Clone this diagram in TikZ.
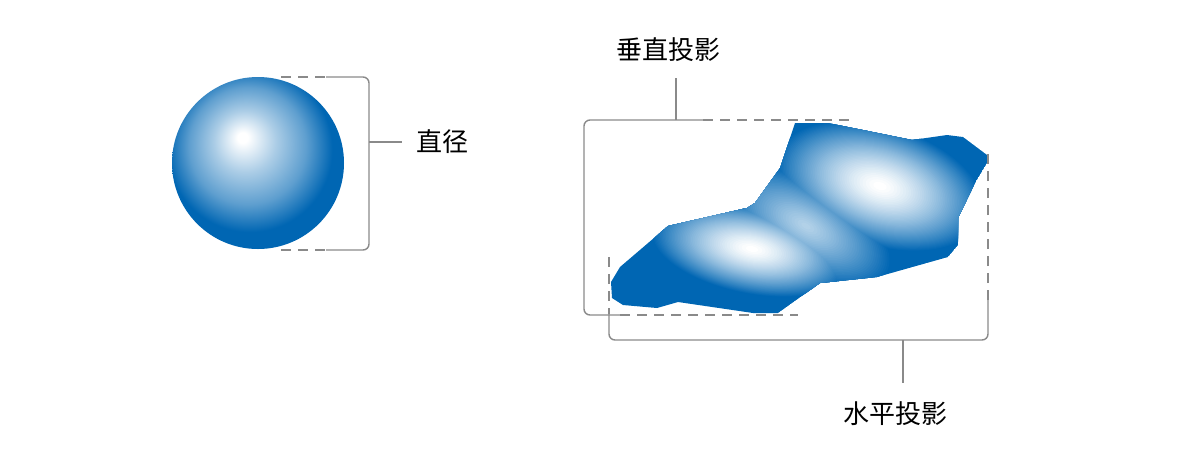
\documentclass[tikz,border=0pt]{standalone}
\usepackage{fontspec}
\newfontfamily\cjk{Noto Sans CJK SC}
\definecolor{blueA}{HTML}{0066B3}
\definecolor{lineg}{HTML}{8A8A8A}
\pgfdeclareradialshading{spherefill}{\pgfpoint{-4.6bp}{7.6bp}}{%
  color(0bp)=(white);
  color(1.5bp)=(white);
  color(9bp)=(blueA!33!white);
  color(17bp)=(blueA!63!white);
  color(24bp)=(blueA);
  color(50bp)=(blueA)}
\tikzset{
  brk/.style={draw=lineg, line width=1.4pt, rounded corners=6pt},
  brkd/.style={draw=lineg, line width=1.4pt, dash pattern=on 10pt off 7pt},
  lbl/.style={font=\cjk\fontsize{26}{30}\selectfont, text=black, inner sep=0pt},
}
\begin{document}
\begin{tikzpicture}[x=1pt, y=-1pt]
\useasboundingbox (0,0) rectangle (1200,459);
% ---------- sphere ----------
\shade[shading=spherefill] (258,163) circle [radius=86];
% bracket for diameter
\draw[brkd] (281,77) -- (326,77);
\draw[brkd] (281,250) -- (326,250);
\draw[brk] (326,77) -- (369,77) -- (369,250) -- (326,250);
\coordinate (d1) at (369,142);
\coordinate (d2) at (402,142);
\draw[brk] (d1) -- (d2);
\node[lbl, anchor=west] (diam) at (416,142) {直径};
% ---------- irregular body ----------
\def\body{(795,123) -- (828,123) -- (912,140) -- (947,135) -- (963,137) -- (987,155) -- (987,163) -- (975,183) -- (958,218) -- (958,245) -- (948,257) -- (877,277) -- (820,283) -- (778,313) -- (753,313) -- (678,302) -- (657,308) -- (623,305) -- (612,298) -- (611,282) -- (620,267) -- (668,226) -- (747,208) -- (755,203) -- (780,168) -- cycle}
\begin{scope}
  \clip \body;
  \fill[blueA] \body;
  \foreach \k in {1,...,50}{
    \pgfmathsetmacro{\s}{(1-\k/51)^0.7}
    \pgfmathsetmacro{\p}{100*(1-\k/50)}
    \ifnum\k<36
      \pgfmathsetmacro{\sc}{(1-\k/36)^0.8}
      \fill[blueA!\p!white] (806,226) ellipse [x radius={95*\sc}, y radius={46*\sc}, rotate=-30];
    \fi
    \fill[blueA!\p!white] (880,186) ellipse [x radius={108*\s}, y radius={60*\s}, rotate=-17];
    \fill[blueA!\p!white] (752,249) ellipse [x radius={102*\s}, y radius={45*\s}, rotate=-11];
  }
\end{scope}
% ---------- vertical projection bracket ----------
\draw[brk] (703,120) -- (584,120) -- (584,315) -- (620,315);
\draw[brkd] (703,120) -- (852,120);
\draw[brkd] (620,315) -- (798,315);
\coordinate (v1) at (676,120);
\coordinate (v2) at (676,78);
\draw[brk] (v1) -- (v2);
\node[lbl] (vproj) at (668,50) {垂直投影};
% ---------- horizontal projection bracket ----------
\draw[brkd] (609,257) -- (609,314);
\draw[brk] (609,314) -- (609,340) -- (988,340) -- (988,300);
\draw[brkd] (988,300) -- (988,147);
\coordinate (h1) at (903,340);
\coordinate (h2) at (903,383);
\draw[brk] (h1) -- (h2);
\node[lbl] (hproj) at (895,414) {水平投影};
\end{tikzpicture}
\end{document}
